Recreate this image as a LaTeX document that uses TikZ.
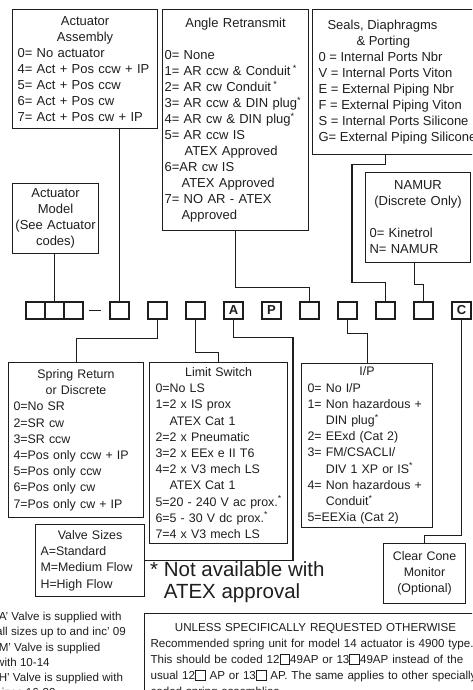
\documentclass[tikz,border=0pt]{standalone}
\usepackage{fontspec}
\setmainfont{Liberation Sans}
\usepackage{tikz}
\definecolor{inkgray}{HTML}{1E1E1E}
\newcommand{\boxfont}{\fontsize{13}{16}\selectfont}
\newcommand{\lowfont}{\fontsize{12.4}{16.2}\selectfont}
\newcommand{\notefont}{\fontsize{11.6}{15.2}\selectfont}
\newcommand{\advicefont}{\fontsize{11.6}{16}\selectfont}
\newcommand{\bigfont}{\fontsize{20.5}{22.5}\selectfont}
\newcommand{\sqbox}{{\setlength{\fboxsep}{0pt}\setlength{\fboxrule}{0.8pt}\fbox{\rule{0pt}{9pt}\hspace{9pt}}}}
\tikzset{
  link/.style={draw=inkgray, line width=1.1pt},
  infobox/.style={draw=inkgray, line width=1.1pt, anchor=north west, align=left, inner ysep=4pt, text=inkgray},
  codebox/.style={draw=inkgray, line width=1.1pt, minimum width=19pt, minimum height=17pt, inner sep=0pt},
  letterbox/.style={codebox, font=\boxfont\bfseries, text=inkgray},
  plaintext/.style={anchor=north west, align=left, inner sep=0pt, text=inkgray}
}

\begin{document}
\begin{tikzpicture}[x=1pt, y=-1pt, every node/.style={font=\boxfont}]
  \useasboundingbox (0,0) rectangle (472,690);
  \clip (0,0) rectangle (472,690);

  % option boxes, top row
  \node[infobox, text width=135pt, inner xsep=5pt, minimum height=119pt] (asm) at (12,9)
    {\centering Actuator\\Assembly\par\raggedright 0= No actuator\\4= Act + Pos ccw + IP\\5= Act + Pos ccw\\6= Act + Pos cw\\7= Act + Pos cw + IP};
  \node[infobox, align=center, text width=84pt, inner xsep=1pt, minimum height=70pt] (model) at (12,183)
    {Actuator\\Model\\(See Actuator\\codes)};
  \node[infobox, text width=142pt, inner xsep=2pt, minimum height=221pt] (angle) at (162,9)
    {\centering Angle Retransmit\par\vspace{16pt}\raggedright 0= None\\1= AR ccw \& Conduit\,\textsuperscript{*}\\2= AR cw Conduit\,\textsuperscript{*}\\3= AR ccw \& DIN plug\textsuperscript{*}\\4= AR cw \& DIN plug\textsuperscript{*}\\5= AR ccw IS\\\hspace*{20pt}ATEX Approved\\6=AR cw IS\\\hspace*{17pt}ATEX Approved\\7= NO AR - ATEX\\\hspace*{17pt}Approved};
  \node[infobox, inner xsep=6pt, inner ysep=2pt, minimum height=145pt] (seals) at (312,9)
    {\hspace*{9pt}Seals, Diaphragms\\\hspace*{38pt}\& Porting\\0 = Internal Ports Nbr\\V = Internal Ports Viton\\E = External Piping Nbr\\F = External Piping Viton\\S = Internal Ports Silicone\\G= External Piping Silicone};
  \node[infobox, text width=97pt, inner xsep=4pt, minimum height=90pt] (namur) at (365,172)
    {\centering NAMUR\\(Discrete Only)\par\vspace{16pt}\raggedright 0= Kinetrol\\N= NAMUR};

  % the code row
  \node[codebox] (m1) at (35.5,310.5) {};
  \node[codebox] (m2) at (54.5,310.5) {};
  \node[codebox] (m3) at (73.5,310.5) {};
  \node[codebox] (asmcode) at (119.5,310.5) {};
  \node[codebox] (springcode) at (157.5,310.5) {};
  \node[codebox] (limitcode) at (195.5,310.5) {};
  \node[letterbox] (valvecode) at (233.5,310.5) {A};
  \node[letterbox] (pcode) at (271.5,310.5) {P};
  \node[codebox] (arcode) at (309.5,310.5) {};
  \node[codebox] (ipcode) at (347.5,310.5) {};
  \node[codebox] (sealcode) at (385.5,310.5) {};
  \node[codebox] (namurcode) at (423.5,310.5) {};
  \node[letterbox] (conecode) at (461.5,310.5) {C};
  \draw[link] ([xshift=5pt]m3.east) -- ([xshift=-8pt]asmcode.west);

  % option boxes, lower row
  \node[infobox, font=\lowfont, text width=125pt, inner xsep=5pt, minimum height=155pt] (spring) at (8,362)
    {\centering Spring Return\\or Discrete\par\raggedright 0=No SR\\2=SR cw\\3=SR ccw\\4=Pos only ccw + IP\\5=Pos only ccw\\6=Pos only cw\\7=Pos only cw + IP};
  \node[infobox, font=\lowfont, text width=130pt, inner xsep=4pt, inner ysep=2pt, minimum height=181pt] (limit) at (149,362)
    {\centering Limit Switch\par\raggedright \hspace*{2pt}0=No LS\\\hspace*{2pt}1=2 x IS prox\\\hspace*{16pt}ATEX Cat 1\\\hspace*{2pt}2=2 x Pneumatic\\\hspace*{2pt}3=2 x EEx e II T6\\\hspace*{2pt}4=2 x V3 mech LS\\\hspace*{16pt}ATEX Cat 1\\\hspace*{2pt}5=20 - 240 V ac prox.\textsuperscript{*}\\\hspace*{2pt}6=5 - 30 V dc prox.\textsuperscript{*}\\\hspace*{2pt}7=4 x V3 mech LS};
  \node[infobox, font=\lowfont, text width=99pt, inner xsep=5pt, minimum height=72pt] (valve) at (35,524)
    {\centering Valve Sizes\par\raggedright A=Standard\\M=Medium Flow\\H=High Flow};
  \node[infobox, font=\lowfont, text width=123pt, inner xsep=4pt, inner ysep=3pt, minimum height=164pt] (ip) at (301,363)
    {\centering I/P\par\raggedright \hspace*{2pt}0= No I/P\\\hspace*{2pt}1= Non hazardous +\\\hspace*{2pt}\phantom{1= }DIN plug\textsuperscript{*}\\\hspace*{2pt}2= EExd (Cat 2)\\\hspace*{2pt}3= FM/CSACLI/\\\hspace*{2pt}\phantom{3= }DIV 1 XP or IS\textsuperscript{*}\\\hspace*{2pt}4= Non hazardous +\\\hspace*{2pt}\phantom{4= }Conduit\textsuperscript{*}\\\hspace*{2pt}5=EEXia (Cat 2)};
  \node[infobox, font=\lowfont, align=center, text width=80pt, inner xsep=1pt, minimum height=60pt] (cone) at (383,543)
    {Clear Cone\\Monitor\\(Optional)};

  % notes
  \node[plaintext, font=\bigfont] (atex) at (150,561) {* Not available with\\\phantom{* }ATEX approval};
  \node[plaintext, font=\notefont] (sizes) at (-4,612)
    {'A' Valve is supplied with\\all sizes up to and inc' 09\\'M' Valve is supplied\\with 10-14\\'H' Valve is supplied with\\sizes 16-30};
  \node[infobox, font=\advicefont, text width=330pt, inner xsep=6pt, inner ysep=10pt] (advice) at (144,613)
    {\centering UNLESS SPECIFICALLY REQUESTED OTHERWISE\par\raggedright \mbox{Recommended spring unit for model 14 actuator is 4900 type.}\\\mbox{This should be coded 12\sqbox49AP or 13\sqbox49AP instead of the}\\\mbox{usual 12\sqbox\ AP or 13\sqbox\ AP. The same applies to other specially}\\coded spring assemblies.};

  % connectors
  \draw[link] (asm.south -| asmcode.north) -- (asmcode.north);
  \draw[link] (model.south -| m2.north) -- (m2.north);
  \draw[link] (angle.south) -- ++(0,56) -| (arcode.north);
  \draw[link] (sealcode.north) -- ++(0,-19) -- ++(-33.5,0) -- ++(0,-118) -| (seals.south -| sealcode.north);
  \draw[link] ([xshift=-4pt]namur.south) -- ++(0,21) -| (namurcode.north);
  \draw[link] (springcode.south) -- ++(0,19) -| (spring.north);
  \draw[link] (limitcode.south) -- ++(0,33) -| (limit.north);
  \draw[link] (valvecode.south) -- ++(0,18) -- ++(59.5,0) |- (valve.east);
  \draw[link] (ipcode.south) -- ++(0,14) -| (ip.north);
  \draw[link] (conecode.south) -- ++(0,216) -| (cone.north);
\end{tikzpicture}
\end{document}
